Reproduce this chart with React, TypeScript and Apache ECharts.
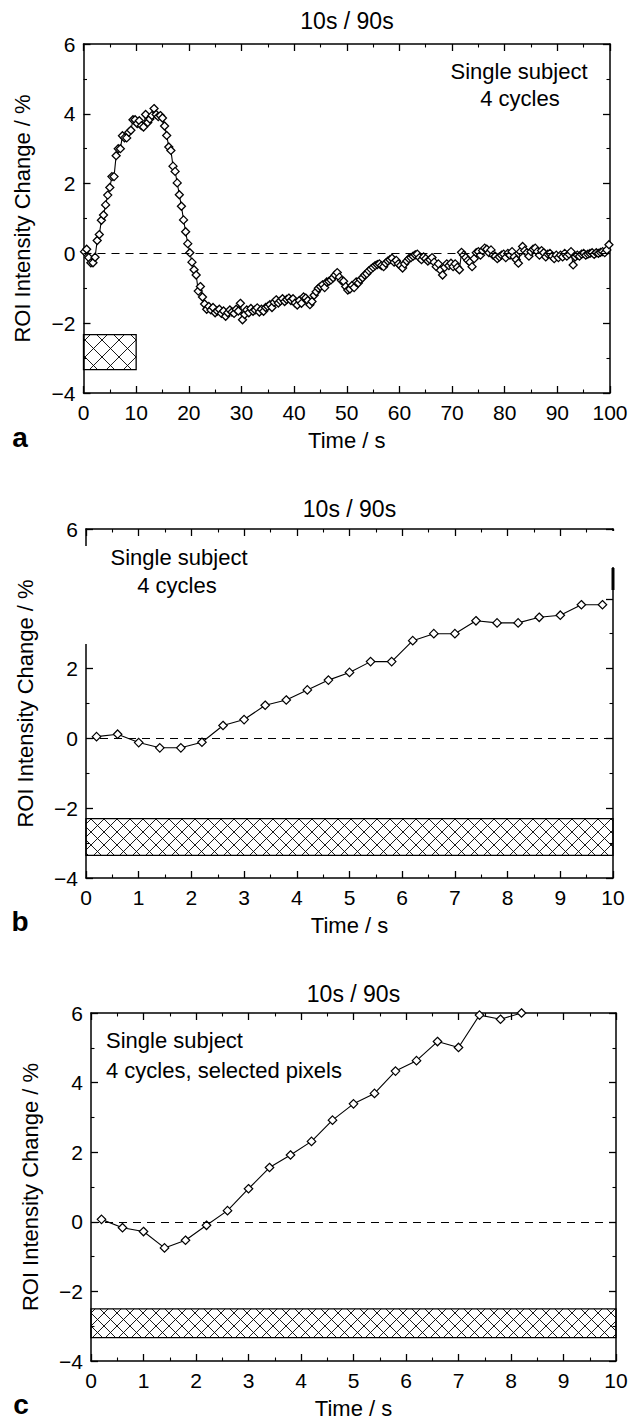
import React, { useEffect, useRef } from "react";
import * as echarts from "echarts";

const FONT = '"Liberation Sans", Arial, Helvetica, sans-serif';

// ---------- data ----------
// Panel a: sampled every 0.4 s starting at 0.2 s (0–100 s)
const A_T0 = 0.2;
const A_DT = 0.4;
const A_VALUES = [
  // 0–10 s
  0.05, 0.12, -0.12, -0.27, -0.27, -0.11, 0.37, 0.54, 0.95, 1.1, 1.39, 1.67, 1.89, 2.2, 2.2, 2.8, 3.0, 3.0, 3.37, 3.31, 3.31, 3.47, 3.53, 3.83, 3.83,
  // 10–20 s
  3.72, 3.8, 3.66, 3.62, 3.98, 3.75, 3.85, 3.95, 4.15, 3.98, 3.92, 3.95, 3.88, 3.65, 3.38, 3.05, 2.95, 2.5, 2.35, 2.02, 1.68, 1.35, 0.96, 0.62, 0.28,
  // 20–30 s
  0.02, -0.25, -0.47, -0.62, -1.08, -0.95, -1.25, -1.45, -1.6, -1.52, -1.62, -1.55, -1.7, -1.65, -1.6, -1.72, -1.65, -1.8, -1.7, -1.62, -1.68, -1.72, -1.6, -1.65, -1.43,
  // 30–40 s
  -1.9, -1.75, -1.62, -1.7, -1.58, -1.66, -1.62, -1.56, -1.68, -1.6, -1.66, -1.55, -1.52, -1.47, -1.55, -1.4, -1.33, -1.42, -1.36, -1.3, -1.38, -1.32, -1.28, -1.35, -1.3,
  // 40–50 s
  -1.42, -1.48, -1.35, -1.43, -1.25, -1.28, -1.35, -1.47, -1.38, -1.2, -1.1, -1.0, -0.95, -0.9, -0.98, -0.82, -0.8, -0.76, -0.7, -0.62, -0.55, -0.68, -0.78, -0.8, -0.95,
  // 50–60 s
  -1.05, -1.02, -0.92, -0.98, -0.82, -0.85, -0.75, -0.7, -0.62, -0.58, -0.5, -0.45, -0.4, -0.35, -0.32, -0.3, -0.35, -0.38, -0.28, -0.22, -0.18, -0.14, -0.25, -0.2, -0.3,
  // 60–70 s
  -0.35, -0.42, -0.3, -0.22, -0.15, -0.12, -0.08, -0.04, -0.02, -0.12, -0.18, -0.1, -0.15, -0.22, -0.18, -0.12, -0.25, -0.38, -0.3, -0.48, -0.62, -0.4, -0.3, -0.35, -0.28,
  // 70–80 s
  -0.38, -0.3, -0.4, -0.47, 0.03, -0.05, -0.12, -0.2, -0.25, -0.38, -0.15, 0.02, 0.05, -0.05, 0.08, 0.15, 0.12, 0.02, 0.1, -0.05, -0.08, -0.15, -0.1, -0.05, -0.02,
  // 80–90 s
  -0.12, 0.0, -0.05, 0.05, -0.1, -0.18, -0.28, 0.05, 0.2, 0.08, 0.02, -0.08, 0.05, 0.12, 0.15, 0.05, -0.05, 0.08, 0.02, -0.1, -0.02, 0.0, -0.08, -0.15, -0.05,
  // 90–100 s
  -0.12, -0.05, -0.1, 0.0, -0.08, -0.02, 0.05, -0.33, -0.1, -0.05, -0.08, -0.02, 0.0, -0.05, -0.02, 0.0, 0.02, -0.03, 0.02, 0.0, 0.03, 0.05, 0.02, 0.1, 0.25,
];

const B_TIMES = [0.2, 0.6, 1.0, 1.4, 1.8, 2.2, 2.6, 3.0, 3.4, 3.8, 4.2, 4.6, 5.0, 5.4, 5.8, 6.2, 6.6, 7.0, 7.4, 7.8, 8.2, 8.6, 9.0, 9.4, 9.8];
const B_VALUES = [0.05, 0.12, -0.12, -0.27, -0.27, -0.11, 0.37, 0.54, 0.95, 1.1, 1.39, 1.67, 1.89, 2.2, 2.2, 2.8, 3.0, 3.0, 3.37, 3.31, 3.31, 3.47, 3.53, 3.83, 3.83];

const C_TIMES = [0.2, 0.6, 1.0, 1.4, 1.8, 2.2, 2.6, 3.0, 3.4, 3.8, 4.2, 4.6, 5.0, 5.4, 5.8, 6.2, 6.6, 7.0, 7.4, 7.8, 8.2, 8.6];
const C_VALUES = [0.07, -0.17, -0.28, -0.75, -0.53, -0.1, 0.32, 0.95, 1.56, 1.92, 2.31, 2.92, 3.39, 3.69, 4.33, 4.63, 5.18, 5.01, 5.94, 5.82, 6.0, 6.4];

// stimulus block: [xStart, xEnd, yTop, yBottom]
const STIM_A = [0, 10, -2.33, -3.33];
const STIM_B = [0, 10, -2.3, -3.35];
const STIM_C = [0, 10, -2.5, -3.33];

const TITLE = "10s / 90s";
const Y_NAME = "ROI Intensity Change / %";
const X_NAME = "Time / s";
const Y_MIN = -4;
const Y_MAX = 6;
const Y_STEP = 2;

// ---------- layout ----------
const GRIDS = [
  { left: 83.5, top: 44, width: 526.5, height: 349 },
  { left: 86, top: 529, width: 527, height: 349 },
  { left: 91, top: 1013, width: 525, height: 350 },
];
const X_RANGES = [
  { max: 100, interval: 10 },
  { max: 10, interval: 1 },
  { max: 10, interval: 1 },
];
const HATCH_STEP = [17, 13, 13];

const axisLine = { show: true, onZero: false, lineStyle: { color: "#000", width: 1.5 } };
const axisTick = { show: true, inside: true, length: 7, lineStyle: { color: "#000", width: 1.3 } };
const minorTick = { show: true, splitNumber: 2, length: 3.5, lineStyle: { color: "#000", width: 1.1 } };

const fmt = (v: number) => (v < 0 ? "\u2212" + Math.abs(v) : String(v));

function hatchRender(step: number) {
  return (params: any, api: any) => {
    const p0 = api.coord([api.value(0), api.value(2)]);
    const p1 = api.coord([api.value(1), api.value(3)]);
    const x0 = Math.min(p0[0], p1[0]);
    const x1 = Math.max(p0[0], p1[0]);
    const y0 = Math.min(p0[1], p1[1]);
    const y1 = Math.max(p0[1], p1[1]);
    const children: any[] = [];
    const ls = { stroke: "#000", lineWidth: 0.9 };
    for (let k = Math.ceil((y0 - x1) / step) * step; k <= y1 - x0; k += step) {
      const xa = Math.max(x0, y0 - k);
      const xb = Math.min(x1, y1 - k);
      if (xb > xa) children.push({ type: "line", shape: { x1: xa, y1: xa + k, x2: xb, y2: xb + k }, style: ls });
    }
    for (let k = Math.ceil((x0 + y0) / step) * step; k <= x1 + y1; k += step) {
      const xa = Math.max(x0, k - y1);
      const xb = Math.min(x1, k - y0);
      if (xb > xa) children.push({ type: "line", shape: { x1: xa, y1: k - xa, x2: xb, y2: k - xb }, style: ls });
    }
    children.push({
      type: "rect",
      shape: { x: x0, y: y0, width: x1 - x0, height: y1 - y0 },
      style: { fill: "none", stroke: "#000", lineWidth: 1.3 },
    });
    return { type: "group", children };
  };
}

function txt(text: string, x: number, y: number, size: number, align = "center", weight = "normal") {
  return {
    type: "text",
    x,
    y,
    silent: true,
    z: 50,
    style: {
      text,
      fill: "#000",
      fontSize: size,
      fontFamily: FONT,
      fontWeight: weight,
      align,
      verticalAlign: "middle",
      textAlign: align,
      textVerticalAlign: "middle",
    },
  };
}

function buildOption() {
  const xAxis: any[] = [];
  const yAxis: any[] = [];
  GRIDS.forEach((_, gi) => {
    const r = X_RANGES[gi];
    xAxis.push({
      type: "value",
      gridIndex: gi,
      position: "bottom",
      min: 0,
      max: r.max,
      interval: r.interval,
      axisLine,
      axisTick,
      minorTick,
      splitLine: { show: false },
      axisLabel: { show: true, margin: 9, fontSize: 21, color: "#000", fontFamily: FONT },
      name: X_NAME,
      nameLocation: "middle",
      nameGap: 36,
      nameTextStyle: { fontSize: 22, color: "#000", fontFamily: FONT },
    });
    xAxis.push({
      type: "value",
      gridIndex: gi,
      position: "top",
      min: 0,
      max: r.max,
      interval: r.interval,
      axisLine,
      axisTick,
      minorTick,
      splitLine: { show: false },
      axisLabel: { show: false },
    });
    yAxis.push({
      type: "value",
      gridIndex: gi,
      position: "left",
      min: Y_MIN,
      max: Y_MAX,
      interval: Y_STEP,
      axisLine,
      axisTick,
      minorTick,
      splitLine: { show: false },
      axisLabel: { show: true, margin: 8, fontSize: 21, color: "#000", fontFamily: FONT, formatter: fmt },
      name: Y_NAME,
      nameLocation: "middle",
      nameGap: 50,
      nameRotate: 90,
      nameTextStyle: { fontSize: 22, color: "#000", fontFamily: FONT },
    });
    yAxis.push({
      type: "value",
      gridIndex: gi,
      position: "right",
      min: Y_MIN,
      max: Y_MAX,
      interval: Y_STEP,
      axisLine,
      axisTick,
      minorTick,
      splitLine: { show: false },
      axisLabel: { show: false },
    });
  });

  const aData = A_VALUES.map((v, i) => [Number((A_T0 + i * A_DT).toFixed(1)), v]);
  const bData = B_TIMES.map((t, i) => [t, B_VALUES[i]]);
  const cData = C_TIMES.map((t, i) => [t, C_VALUES[i]]);
  const datas = [aData, bData, cData];
  const stims = [STIM_A, STIM_B, STIM_C];
  const symSize = [8, 8.5, 8.5];
  const borderW = [1.3, 1.2, 1.2];

  const series: any[] = [];
  datas.forEach((d, gi) => {
    series.push({
      type: "custom",
      xAxisIndex: gi * 2,
      yAxisIndex: gi * 2,
      silent: true,
      z: 1,
      encode: { x: [0, 1], y: [2, 3] },
      data: [stims[gi]],
      renderItem: hatchRender(HATCH_STEP[gi]),
    });
    series.push({
      type: "line",
      xAxisIndex: gi * 2,
      yAxisIndex: gi * 2,
      silent: true,
      z: 3,
      clip: true,
      data: d,
      symbol: "diamond",
      symbolSize: symSize[gi],
      showSymbol: true,
      showAllSymbol: true,
      itemStyle: { color: "#fff", borderColor: "#000", borderWidth: borderW[gi] },
      lineStyle: { color: "#000", width: 1.1 },
      markLine: {
        silent: true,
        symbol: ["none", "none"],
        label: { show: false },
        lineStyle: { color: "#000", type: [8, 6], width: 1.2 },
        data: [{ yAxis: 0 }],
      },
    });
  });

  const graphic: any[] = [
    txt(TITLE, 347, 21, 23),
    txt(TITLE, 349.5, 509, 23),
    txt(TITLE, 353.5, 994, 23),
    txt("Single subject", 519, 71, 22),
    txt("4 cycles", 520, 98, 22),
    txt("Single subject", 179, 557, 22),
    txt("4 cycles", 177, 585, 22),
    txt("Single subject", 106, 1040, 22, "left"),
    txt("4 cycles, selected pixels", 106, 1070, 22, "left"),
    txt("a", 20, 437, 28, "center", "bold"),
    txt("b", 20, 921, 28, "center", "bold"),
    txt("c", 21, 1404, 28, "center", "bold"),
    // scan gaps in panel b frame
    { type: "rect", z: 40, silent: true, shape: { x: 55, y: 546, width: 40, height: 98 }, style: { fill: "#fff" } },
    { type: "rect", z: 40, silent: true, shape: { x: 604, y: 531, width: 14, height: 36 }, style: { fill: "#fff" } },
    { type: "rect", z: 41, silent: true, shape: { x: 611.5, y: 568, width: 3, height: 22 }, style: { fill: "#000" } },
  ];

  return {
    animation: false,
    backgroundColor: "#fff",
    textStyle: { fontFamily: FONT, color: "#000" },
    grid: GRIDS.map((g) => ({ ...g, containLabel: false })),
    xAxis,
    yAxis,
    series,
    graphic,
  };
}

export default function App() {
  const ref = useRef<HTMLDivElement>(null);
  useEffect(() => {
    if (!ref.current) return;
    const chart = echarts.init(ref.current, undefined, { renderer: "svg" });
    chart.setOption(buildOption() as any);
    return () => chart.dispose();
  }, []);
  return (
    <div
      ref={ref}
      style={{ position: "absolute", left: 0, top: 0, width: 633, height: 1420, background: "#fff" }}
    />
  );
}
